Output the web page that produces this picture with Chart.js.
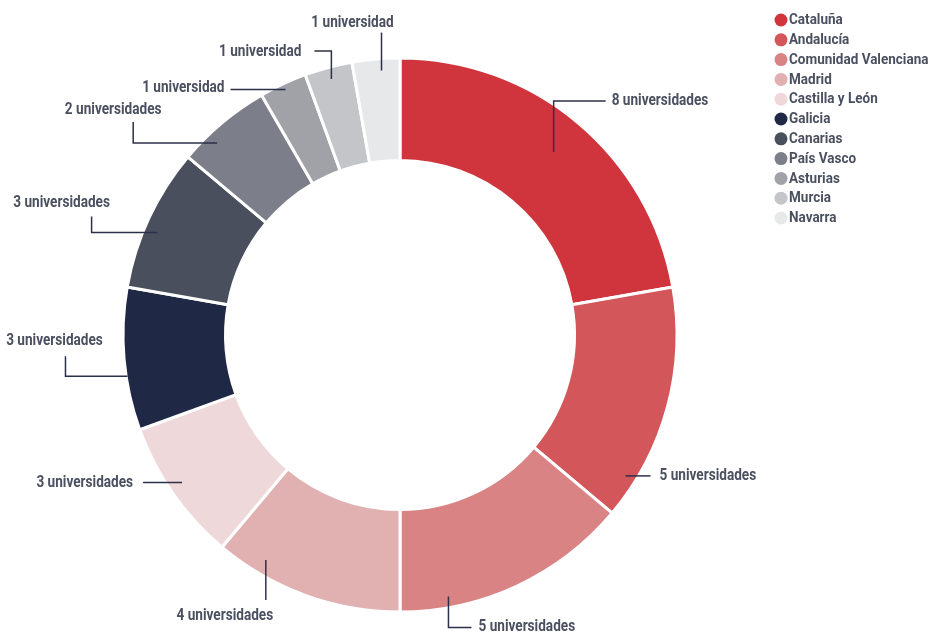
<!DOCTYPE html>
<html lang="es">
<head>
<meta charset="utf-8">
<title>Universidades por comunidad autónoma</title>
<script src="https://cdn.jsdelivr.net/npm/chart.js@4/dist/chart.umd.min.js"></script>
<style>
  html, body { margin: 0; padding: 0; background: #ffffff; }
  #wrap { position: relative; width: 933px; height: 634px; }
</style>
</head>
<body>
<div id="wrap"><canvas id="chart" width="933" height="634"></canvas></div>
<script>
// Comunidades autónomas and their number of universities
const regions = [
  'Cataluña', 'Andalucía', 'Comunidad Valenciana', 'Madrid', 'Castilla y León',
  'Galicia', 'Canarias', 'País Vasco', 'Asturias', 'Murcia', 'Navarra'
];
const universityCounts = [8, 5, 5, 4, 3, 3, 3, 2, 1, 1, 1];
const sliceColors = [
  '#d0353d', '#d3575a', '#d98385', '#e1b0b1', '#efd8da',
  '#1f2945', '#4a4f5e', '#7c7f89', '#a0a2a8', '#c4c5c9', '#e7e8ea'
];

// Callout text for each slice
const calloutText = universityCounts.map(n => n === 1 ? '1 universidad' : n + ' universidades');

// Callout geometry: anchor at fraction t of the slice sweep and radius rf (x outer radius),
// then a polyline of relative moves, then the text offset from the last point.
const calloutLayout = [
  { t: 0.50, rf: 0.863, path: [[0, -51], [52, 0]], text: { align: 'left',   dx: 6,   dy: 0 } },
  { t: 0.84, rf: 0.960, path: [[25, 0]],           text: { align: 'left',   dx: 9,   dy: 0 } },
  { t: 0.79, rf: 0.960, path: [[0, 31], [23, 0]],  text: { align: 'left',   dx: 7,   dy: 0 } },
  { t: 0.77, rf: 0.946, path: [[0, 40]],           text: { align: 'center', dx: -41, dy: 16 } },
  { t: 0.53, rf: 0.950, path: [[-39, 0]],          text: { align: 'right',  dx: -10, dy: 0 } },
  { t: 0.38, rf: 0.995, path: [[-62, 0], [0, -20]], text: { align: 'center', dx: -11, dy: -15 } },
  { t: 0.43, rf: 0.950, path: [[-66, 0], [0, -16]], text: { align: 'center', dx: -30, dy: -14 } },
  { t: 0.32, rf: 0.957, path: [[-84, 0], [0, -21]], text: { align: 'center', dx: -20, dy: -12 } },
  { t: 0.50, rf: 0.978, path: [[-55, 0]],          text: { align: 'right',  dx: -6,  dy: -1 } },
  { t: 0.50, rf: 0.957, path: [[0, -28], [-17, 0]], text: { align: 'right',  dx: -13, dy: 1 } },
  { t: 0.60, rf: 0.957, path: [[0, -38]],          text: { align: 'center', dx: -29, dy: -10 } }
];

const CALLOUT_FONT = "bold 16px Roboto, 'Liberation Sans', sans-serif";
const LEGEND_FONT = "bold 15px Roboto, 'Liberation Sans', sans-serif";
const TEXT_COLOR = '#4b5060';
const LINE_COLOR = '#2b3148';

// Draws text squeezed horizontally to give a condensed face
function condensedText(ctx, text, x, y, align, squeeze) {
  ctx.save();
  ctx.translate(x, y);
  ctx.scale(squeeze, 1);
  ctx.textAlign = align;
  ctx.fillText(text, 0, 0);
  ctx.restore();
}

// Leader lines and value labels around the ring
const calloutPlugin = {
  id: 'callouts',
  afterDatasetsDraw(chart) {
    const ctx = chart.ctx;
    const meta = chart.getDatasetMeta(0);
    ctx.save();
    ctx.font = CALLOUT_FONT;
    ctx.textBaseline = 'middle';
    meta.data.forEach((arc, i) => {
      const cfg = calloutLayout[i];
      const p = arc.getProps(['x', 'y', 'startAngle', 'endAngle', 'outerRadius'], true);
      const a = p.startAngle + cfg.t * (p.endAngle - p.startAngle);
      const r = p.outerRadius * cfg.rf;
      let px = p.x + Math.cos(a) * r;
      let py = p.y + Math.sin(a) * r;
      ctx.beginPath();
      ctx.strokeStyle = LINE_COLOR;
      ctx.lineWidth = 1.5;
      ctx.moveTo(px, py);
      cfg.path.forEach(([dx, dy]) => { px += dx; py += dy; ctx.lineTo(px, py); });
      ctx.stroke();
      ctx.fillStyle = TEXT_COLOR;
      condensedText(ctx, calloutText[i], px + cfg.text.dx, py + cfg.text.dy, cfg.text.align, 0.85);
    });
    ctx.restore();
  }
};

// Legend in the top-right corner, drawn from the chart's own labels and colours
const legendPlugin = {
  id: 'cornerLegend',
  afterDraw(chart) {
    const ctx = chart.ctx;
    const labels = chart.data.labels;
    const colors = chart.data.datasets[0].backgroundColor;
    ctx.save();
    ctx.font = LEGEND_FONT;
    ctx.textBaseline = 'middle';
    labels.forEach((label, i) => {
      const y = 20 + i * 19.8;
      ctx.beginPath();
      ctx.fillStyle = colors[i];
      ctx.arc(781, y, 6.5, 0, Math.PI * 2);
      ctx.fill();
      ctx.fillStyle = TEXT_COLOR;
      condensedText(ctx, label, 789, y + 0.5, 'left', 0.9);
    });
    ctx.restore();
  }
};

new Chart(document.getElementById('chart'), {
  type: 'doughnut',
  data: {
    labels: regions,
    datasets: [{
      data: universityCounts,
      backgroundColor: sliceColors,
      borderColor: '#ffffff',
      borderWidth: 3,
      hoverOffset: 0
    }]
  },
  options: {
    responsive: false,
    animation: false,
    cutout: '63%',
    layout: { padding: { left: 121.5, right: 254.5, top: 56.5, bottom: 20.5 } },
    plugins: {
      legend: { display: false },
      tooltip: { enabled: false }
    }
  },
  plugins: [calloutPlugin, legendPlugin]
});
</script>
</body>
</html>
